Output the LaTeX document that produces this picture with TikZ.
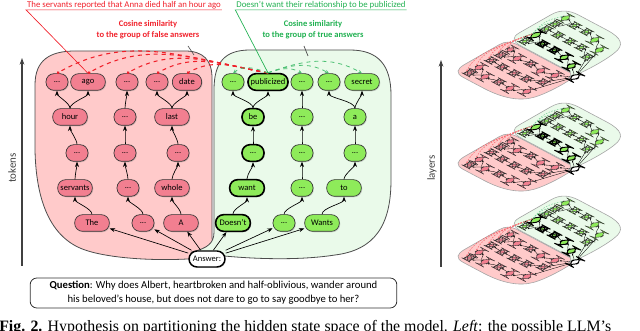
\documentclass[tikz,border=0pt]{standalone}
\usepackage{fontspec}
\setmainfont{Carlito}
\newfontfamily\capfont{Liberation Serif}
\usetikzlibrary{arrows.meta, shadows}
\definecolor{falseRed}{HTML}{F0202A}
\definecolor{trueGreen}{HTML}{1FB050}
\definecolor{tokPink}{HTML}{F27F90}
\definecolor{tokLime}{HTML}{8EEB5A}
\definecolor{zonePink}{HTML}{FFCACA}
\definecolor{zoneMint}{HTML}{EAFAEA}

\tikzset{
  tokshadow/.style={drop shadow={opacity=0.3, shadow xshift=0.7pt, shadow yshift=-0.7pt}},
  tok/.style={rectangle, rounded corners=6pt, draw=black!80, line width=0.5pt, minimum height=12.5pt, minimum width=26pt, inner sep=1pt, font=\fontsize{6.4}{7}\selectfont, tokshadow},
  narrow/.style={minimum width=16.5pt},
  falsetok/.style={tok, fill=tokPink},
  truetok/.style={tok, fill=tokLime},
  chosen/.style={draw=black, line width=1.2pt},
  answerbox/.style={tok, fill=white, draw=black, line width=1.1pt, minimum width=27pt, minimum height=12pt},
  arr/.style={-{Stealth[length=4pt, width=3pt]}, line width=0.5pt},
  lift/.style={out=90, in=-90, looseness=0.6},
  falsezone/.style={draw=black!70, fill=zonePink, line width=0.6pt},
  truezone/.style={draw=black!70, fill=zoneMint, line width=0.6pt},
  falselink/.style={falseRed, dashed, line width=0.8pt, -{Circle[length=2pt]}},
  truelink/.style={trueGreen!80, dashed, line width=0.6pt, -{Stealth[length=3pt, width=2.5pt]}},
  axisline/.style={black!75, line width=0.8pt, -{Stealth[length=5pt, width=3.5pt]}},
  axislabel/.style={black!75, rotate=90, font=\fontsize{8.2}{9}\selectfont},
  mini/.style={
    tokshadow/.style={},
    tok/.append style={line width=0.3pt},
    chosen/.style={draw=black, line width=0.7pt},
    answerbox/.append style={line width=0.7pt},
    arr/.style={-{Stealth[length=1.4pt, width=1.2pt]}, line width=0.25pt},
    falsezone/.append style={draw=black!35, line width=0.45pt},
    truezone/.append style={draw=black!35, line width=0.45pt},
    falselink/.style={falseRed!70, dash pattern=on 1.2pt off 1pt, line width=0.35pt, -{Stealth[length=1.5pt]}},
    truelink/.style={trueGreen!60, dash pattern=on 1.2pt off 1pt, line width=0.35pt, -{Stealth[length=1.5pt]}}},
}

\newcommand\toklabel[1]{#1}
\newcommand\tokengraph{%
  \draw[falsezone] (35,85) .. controls (35,60) and (50,51) .. (75,51) -- (185,51) .. controls (203,51) and (212,60) .. (212,78) -- (212,236) .. controls (212,246) and (216,250) .. (226,254) .. controls (195,262) and (120,262) .. (85,250) .. controls (50,238) and (36,200) .. (35,150) -- cycle;
  \draw[truezone] (214,90) .. controls (214,62) and (225,50) .. (250,50) -- (350,50) .. controls (378,50) and (391,65) .. (391,95) -- (391,180) .. controls (391,225) and (375,250) .. (335,255) .. controls (290,262) and (230,258) .. (192,252) .. controls (208,248) and (214,243) .. (214,232) -- cycle;
  \node[falsetok, narrow] (fd1) at (57,82) {\toklabel{...}};
  \node[falsetok] (ago) at (88,82) {\toklabel{ago}};
  \node[falsetok, narrow] (fd2) at (127,82) {\toklabel{...}};
  \node[falsetok, narrow] (fd3) at (157,82) {\toklabel{...}};
  \node[falsetok, minimum width=22pt] (date) at (187,82) {\toklabel{date}};
  \node[falsetok] (hour) at (70,117) {\toklabel{hour}};
  \node[falsetok, narrow] (fd4) at (125,117) {\toklabel{...}};
  \node[falsetok] (last) at (172,117) {\toklabel{last}};
  \node[falsetok, narrow] (fd5) at (77,153) {\toklabel{...}};
  \node[falsetok, narrow] (fd6) at (125,153) {\toklabel{...}};
  \node[falsetok, narrow] (fd7) at (178,153) {\toklabel{...}};
  \node[falsetok] (servants) at (75,188) {\toklabel{servants}};
  \node[falsetok, narrow] (fd8) at (128,188) {\toklabel{...}};
  \node[falsetok] (whole) at (172,188) {\toklabel{whole}};
  \node[falsetok] (the) at (92,223) {\toklabel{The}};
  \node[falsetok, narrow] (fd9) at (143,223) {\toklabel{...}};
  \node[falsetok] (aa) at (181,223) {\toklabel{A}};
  \node[truetok, narrow] (td1) at (233,82) {\toklabel{...}};
  \node[truetok, chosen, minimum width=30pt] (publicized) at (268,82) {\toklabel{publicized}};
  \node[truetok, narrow] (td2) at (302,82) {\toklabel{...}};
  \node[truetok, narrow] (td3) at (329,82) {\toklabel{...}};
  \node[truetok] (secret) at (362,82) {\toklabel{secret}};
  \node[truetok, chosen, narrow] (be) at (253,117) {\toklabel{be}};
  \node[truetok, narrow] (td4) at (302,117) {\toklabel{...}};
  \node[truetok, narrow] (a) at (355,117) {\toklabel{a}};
  \node[truetok, chosen, narrow] (td5) at (253,153) {\toklabel{...}};
  \node[truetok, narrow] (td6) at (302,153) {\toklabel{...}};
  \node[truetok, narrow] (td7) at (355,153) {\toklabel{...}};
  \node[truetok, chosen] (want) at (247,188) {\toklabel{want}};
  \node[truetok, narrow] (td8) at (302,188) {\toklabel{...}};
  \node[truetok] (to) at (344,188) {\toklabel{to}};
  \node[truetok, chosen] (doesnt) at (233,223) {\toklabel{Doesn't}};
  \node[truetok, narrow] (td9) at (284,223) {\toklabel{...}};
  \node[truetok] (wants) at (322,223) {\toklabel{Wants}};
  \node[answerbox] (answer) at (207,259) {\toklabel{Answer:}};
  \draw[arr] (hour) to[lift] (fd1);
  \draw[arr] (hour) to[lift] (ago);
  \draw[arr] (fd4) to[lift] (fd2);
  \draw[arr] (last) to[lift] (fd3);
  \draw[arr] (last) to[lift] (date);
  \draw[arr] (fd5) to[lift] (hour);
  \draw[arr] (fd6) to[lift] (fd4);
  \draw[arr] (fd7) to[lift] (last);
  \draw[arr] (servants) to[lift] (fd5);
  \draw[arr] (fd8) to[lift] (fd6);
  \draw[arr] (whole) to[lift] (fd7);
  \draw[arr] (the) to[lift] (servants);
  \draw[arr] (fd9) to[lift] (fd8);
  \draw[arr] (aa) to[lift] (whole);
  \draw[arr] (be) to[lift] (td1);
  \draw[arr] (be) to[lift] (publicized);
  \draw[arr] (td4) to[lift] (td2);
  \draw[arr] (a) to[lift] (td3);
  \draw[arr] (a) to[lift] (secret);
  \draw[arr] (td5) to[lift] (be);
  \draw[arr] (td6) to[lift] (td4);
  \draw[arr] (td7) to[lift] (a);
  \draw[arr] (want) to[lift] (td5);
  \draw[arr] (td8) to[lift] (td6);
  \draw[arr] (to) to[lift] (td7);
  \draw[arr] (doesnt) to[lift] (want);
  \draw[arr] (td9) to[lift] (td8);
  \draw[arr] (wants) to[lift] (to);
  \foreach \t in {the,fd9,aa,doesnt,td9,wants}
    \draw[arr] (answer) -- (\t);
  \foreach \t in {fd1,ago,fd2,fd3,date}
    \draw[falselink] (publicized.north) to[out=170, in=30] (\t.north);
  \draw[truelink] (publicized.north) to[out=160, in=40] (td1.north);
  \foreach \t in {td2,td3,secret}
    \draw[truelink] (publicized.north) to[out=20, in=150] (\t.north);
}

\begin{document}
\begin{tikzpicture}[x=0.75pt, y=-0.75pt]
\useasboundingbox (0,0) rectangle (640,331);
\tokengraph
\node[text=falseRed, font=\fontsize{6.6}{8}\selectfont, inner sep=0.6pt] (falsetxt) at (124,5) {The servants reported that Anna died half an hour ago};
\draw[falseRed, line width=0.5pt] (falsetxt.south east) -- (falsetxt.south west) -- (ago.north);
\node[text=trueGreen, font=\fontsize{6.6}{8}\selectfont, inner sep=0.6pt] (truetxt) at (321,5) {Doesn't want their relationship to be publicized};
\draw[trueGreen, line width=0.5pt] (truetxt.south east) -- (truetxt.south west) -- (publicized.north);
\node[text=falseRed, font=\bfseries\fontsize{6.4}{8.2}\selectfont, align=center] (falsecue) at (148,30) {Cosine similarity\\to the group of false answers};
\node[text=trueGreen, font=\bfseries\fontsize{6.4}{8.2}\selectfont, align=center] (truecue) at (313,30) {Cosine similarity\\to the group of true answers};
\coordinate (falsecueA) at (188,46);
\coordinate (falsecueB) at (194,55);
\coordinate (truecueA) at (304,46);
\coordinate (truecueB) at (308,56);
\draw[black!70, line width=0.5pt] (falsecueA) -- (falsecueB);
\draw[black!70, line width=0.5pt] (truecueA) -- (truecueB);
\coordinate (tokbot) at (22,266);
\coordinate (toktop) at (22,58);
\draw[axisline] (tokbot) -- (toktop);
\node[axislabel] (toklbl) at (12,168) {tokens};
\coordinate (laybot) at (441,267);
\coordinate (laytop) at (441,60);
\draw[axisline] (laybot) -- (laytop);
\node[axislabel] (laylbl) at (432,168) {layers};
\node[draw=black!80, line width=0.6pt, rounded corners=5pt, fill=white, minimum width=275pt, minimum height=22.5pt, align=center, font=\fontsize{8}{10.5}\selectfont, inner sep=1pt] (question) at (213.5,293) {\textbf{Question}: Why does Albert, heartbroken and half-oblivious, wander around\\his beloved’s house, but does not dare to go to say goodbye to her?};
\node[anchor=base west, inner sep=0pt, font=\capfont\fontsize{11.9}{13}\selectfont] (caption) at (-1,332) {\textbf{Fig. 2.} Hypothesis on partitioning the hidden state space of the model. \textit{Left}: the possible LLM’s};
\foreach \yy in {77,169,262} {
  \begin{scope}[shift={(575,\yy)}]
  \begin{scope}[cm={0.315,0.18,-0.33,0.175,(0,0)}, transform shape, mini]
  \begin{scope}[shift={(-207,-259)}]
    \renewcommand\toklabel[1]{}
    \tokengraph
  \end{scope}
  \end{scope}
  \end{scope}
}
\end{tikzpicture}
\end{document}
